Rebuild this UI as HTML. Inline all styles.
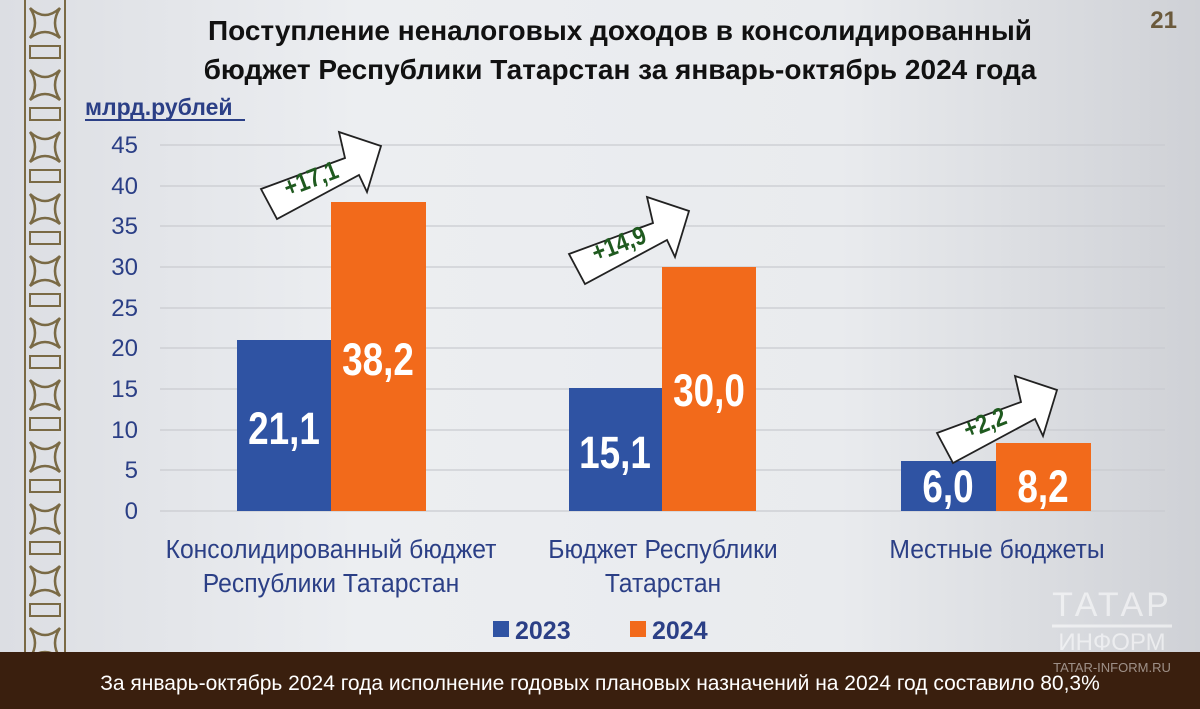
<!DOCTYPE html>
<html><head><meta charset="utf-8"><style>
html,body{margin:0;padding:0}
body{width:1200px;height:709px;overflow:hidden;position:relative;background:linear-gradient(90deg,#dcdee3 0%,#eceef1 30%,#e9ebee 70%,#cfd1d6 100%);font-family:"Liberation Sans",sans-serif}
svg{position:absolute;left:0;top:0}
</style></head><body>
<svg width="1200" height="709" viewBox="0 0 1200 709" font-family="Liberation Sans, sans-serif">
<defs>
<pattern id="orn" x="22" y="0" width="46" height="62" patternUnits="userSpaceOnUse">
<path d="M3 0V62M43 0V62" stroke="#7a6a45" stroke-width="2"/>
<path d="M8 8 Q23 22 38 8 Q28 23 38 38 Q23 26 8 38 Q18 23 8 8Z" fill="none" stroke="#7a6a45" stroke-width="2.5"/>
<path d="M8 46H38V58H8Z" fill="none" stroke="#7a6a45" stroke-width="2"/>
</pattern>
</defs>
<rect x="22" y="0" width="46" height="652" fill="url(#orn)"/>
<text x="1177" y="28" font-size="24" font-weight="bold" fill="#6b5a3c" text-anchor="end">21</text>
<text x="620" y="40" font-size="28" font-weight="bold" text-anchor="middle" fill="#111">Поступление неналоговых доходов в консолидированный</text>
<text x="620" y="79" font-size="28" font-weight="bold" text-anchor="middle" fill="#111">бюджет Республики Татарстан за январь-октябрь 2024 года</text>
<text x="85" y="115" font-size="23" font-weight="bold" fill="#2b3f86">млрд.рублей</text>
<line x1="85" y1="120" x2="245" y2="120" stroke="#2b3f86" stroke-width="2"/>
<g stroke="#c9cbd0" stroke-width="1.3">
<line x1="160" y1="145" x2="1165" y2="145"/><line x1="160" y1="186" x2="1165" y2="186"/>
<line x1="160" y1="226" x2="1165" y2="226"/><line x1="160" y1="267" x2="1165" y2="267"/>
<line x1="160" y1="308" x2="1165" y2="308"/><line x1="160" y1="348" x2="1165" y2="348"/>
<line x1="160" y1="389" x2="1165" y2="389"/><line x1="160" y1="430" x2="1165" y2="430"/>
<line x1="160" y1="470" x2="1165" y2="470"/><line x1="160" y1="511" x2="1165" y2="511"/>
</g>
<g font-size="24" fill="#2b3f86" text-anchor="end">
<text x="138" y="153">45</text><text x="138" y="194">40</text><text x="138" y="234">35</text>
<text x="138" y="275">30</text><text x="138" y="316">25</text><text x="138" y="356">20</text>
<text x="138" y="397">15</text><text x="138" y="438">10</text><text x="138" y="478">5</text>
<text x="138" y="519">0</text>
</g>
<rect x="237" y="340" width="94" height="171" fill="#2f53a3"/>
<rect x="331" y="202" width="95" height="309" fill="#f26a1b"/>
<rect x="569" y="388" width="93" height="123" fill="#2f53a3"/>
<rect x="662" y="267" width="94" height="244" fill="#f26a1b"/>
<rect x="901" y="461" width="95" height="50" fill="#2f53a3"/>
<rect x="996" y="443" width="95" height="68" fill="#f26a1b"/>
<g font-size="45" font-weight="bold" fill="#fff" text-anchor="middle">
<text transform="translate(284,444) scale(0.82,1)">21,1</text><text transform="translate(378,375) scale(0.82,1)">38,2</text>
<text transform="translate(615,468) scale(0.82,1)">15,1</text><text transform="translate(709,406) scale(0.82,1)">30,0</text>
<text transform="translate(948,502) scale(0.82,1)">6,0</text><text transform="translate(1043,502) scale(0.82,1)">8,2</text>
</g>
<polygon points="261,189 345,158 339,132 381,146 367,192 359,175 277,219" fill="#fff" stroke="#222" stroke-width="1.8"/>
<g transform="translate(308,65)"><polygon points="261,189 345,158 339,132 381,146 367,192 359,175 277,219" fill="#fff" stroke="#222" stroke-width="1.8"/></g>
<g transform="translate(676,244)"><polygon points="261,189 345,158 339,132 381,146 367,192 359,175 277,219" fill="#fff" stroke="#222" stroke-width="1.8"/></g>
<g font-size="26" font-weight="bold" fill="#1f5a1f" text-anchor="middle">
<text transform="translate(314,187) rotate(-21) scale(0.85,1)">+17,1</text>
<text transform="translate(622,252) rotate(-21) scale(0.85,1)">+14,9</text>
<text transform="translate(988,431) rotate(-21) scale(0.85,1)">+2,2</text>
</g>
<g font-size="26" fill="#2b3f86" text-anchor="middle">
<text transform="translate(331,558) scale(0.95,1)">Консолидированный бюджет</text><text transform="translate(331,592) scale(0.95,1)">Республики Татарстан</text>
<text transform="translate(663,558) scale(0.95,1)">Бюджет Республики</text><text transform="translate(663,592) scale(0.95,1)">Татарстан</text>
<text transform="translate(997,558) scale(0.95,1)">Местные бюджеты</text>
</g>
<rect x="493" y="621" width="16" height="16" fill="#2f53a3"/>
<text x="515" y="639" font-size="25" font-weight="bold" fill="#2b3f86">2023</text>
<rect x="630" y="621" width="16" height="16" fill="#f26a1b"/>
<text x="652" y="639" font-size="25" font-weight="bold" fill="#2b3f86">2024</text>
<text x="1112" y="616" font-size="34" fill="#fff" fill-opacity="0.55" text-anchor="middle" letter-spacing="3">ТАТАР</text>
<line x1="1052" y1="626" x2="1172" y2="626" stroke="#fff" stroke-opacity="0.55" stroke-width="3"/>
<text x="1112" y="650" font-size="24" fill="#fff" fill-opacity="0.55" text-anchor="middle">ИНФОРМ</text>
<rect x="0" y="652" width="1200" height="57" fill="#3a1f0e"/>
<text x="1112" y="672" font-size="13" fill="#fff" fill-opacity="0.5" text-anchor="middle">TATAR-INFORM.RU</text>
<text x="600" y="690" font-size="21" fill="#fff" text-anchor="middle">За январь-октябрь 2024 года исполнение годовых плановых назначений на 2024 год составило 80,3%</text>
</svg>
</body></html>
